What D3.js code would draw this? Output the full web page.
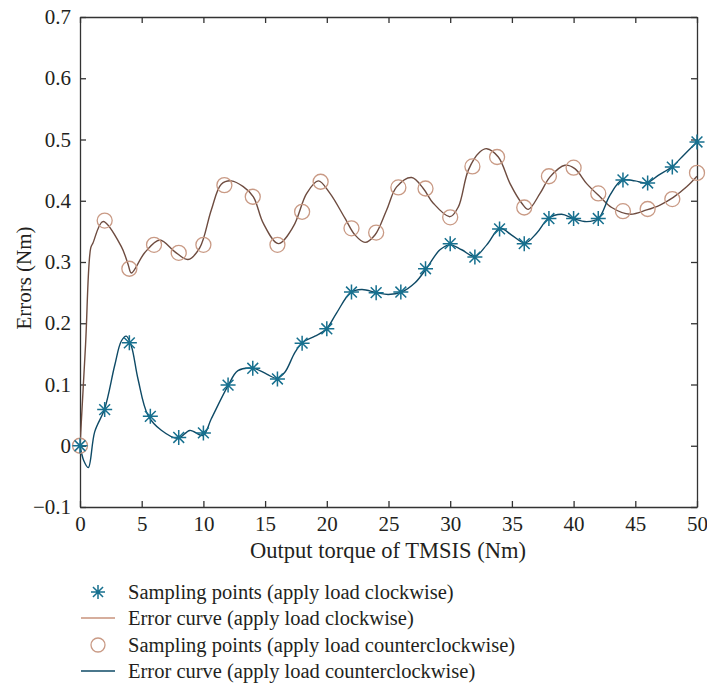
<!DOCTYPE html>
<html>
<head>
<meta charset="utf-8">
<script src="https://cdn.jsdelivr.net/npm/d3@7"></script>
<style>
  body { margin: 0; background: #fff; }
  text { font-family: "Liberation Serif", "DejaVu Serif", serif; fill: #231f20; }
</style>
</head>
<body>
<div id="chart"></div>
<script>
// sampling points, stars (legend: clockwise)
var starX = [0, 2, 4, 5.7, 8, 10, 12, 14, 16, 18, 20, 22, 24, 26, 28, 30, 32, 34, 36, 38, 40, 42, 44, 46, 48, 50];
var starY = [0, 0.059, 0.168, 0.048, 0.0135, 0.021, 0.099, 0.1265, 0.109, 0.1675, 0.191, 0.251, 0.250, 0.251, 0.289,
	0.330, 0.308, 0.354, 0.330, 0.371, 0.371, 0.371, 0.434, 0.429, 0.455, 0.496];

// sampling points, circles (legend: counterclockwise)
var circleX = [0, 2, 4, 6, 8, 10, 11.7, 14, 16, 18, 19.5, 22, 24, 25.8, 28, 30, 31.8, 33.8, 36, 38, 40, 42, 44, 46, 48, 50];
var circleY = [0, 0.3676, 0.289, 0.328, 0.315, 0.328, 0.4255, 0.4065, 0.328, 0.382, 0.431, 0.355, 0.348, 0.4217, 0.42,
	0.373, 0.456, 0.4714, 0.389, 0.44, 0.454, 0.412, 0.383, 0.3865, 0.4027, 0.4455];

// error curve, brown (legend: clockwise)
var brownCurveX = [0, 0.45, 0.87, 1.05, 1.86, 3.35, 3.9, 4.16, 5.24, 6.46, 7.67, 8.75, 9.7, 10.64, 11.45, 12.26, 13.23,
	14.05, 14.86, 16.07, 17.29, 18.37, 19.31, 20.26, 21.47, 22.29, 23.1, 23.9, 24.85, 25.66, 26.88, 27.82, 28.63, 29.98,
	30.66, 31.47, 32.4, 32.96, 33.9, 34.85, 35.8, 36.33, 37.28, 38.09, 39.3, 40.1, 41.06, 42.14, 43.09, 44.57, 45.92,
	47.0, 48.08, 49.16, 50];
var brownCurveY = [0, 0.165, 0.323, 0.331, 0.366, 0.325, 0.296, 0.282, 0.315, 0.336, 0.317, 0.304, 0.323, 0.385, 0.427,
	0.4325, 0.423, 0.4065, 0.363, 0.33, 0.358, 0.412, 0.4325, 0.412, 0.3715, 0.344, 0.332, 0.344, 0.385, 0.4227, 0.438,
	0.42, 0.396, 0.374, 0.39, 0.45, 0.4795, 0.485, 0.4714, 0.428, 0.396, 0.386, 0.412, 0.439, 0.458, 0.4525, 0.428,
	0.4065, 0.389, 0.378, 0.385, 0.393, 0.4055, 0.4227, 0.44];

// error curve, blue (legend: counterclockwise)
var blueCurveX = [0, 0.3, 0.67, 1.19, 2.0, 2.81, 3.35, 3.75, 4.16, 4.7, 5.51, 6.59, 7.94, 8.9, 9.97, 10.64, 12.0, 12.8,
	14.05, 15.13, 15.94, 16.6, 17.42, 18.05, 19.04, 19.94, 20.8, 21.93, 22.83, 24.04, 24.98, 26.07, 27.15, 28.1, 29.17,
	30.0, 30.93, 32.0, 32.96, 34.04, 34.98, 36.06, 37.0, 37.95, 39.03, 39.98, 41.06, 42.0, 42.95, 43.9, 44.98, 45.92,
	46.86, 47.95, 48.9, 50];
var blueCurveY = [0, -0.024, -0.0357, 0.0227, 0.0605, 0.131, 0.171, 0.179, 0.163, 0.109, 0.0497, 0.0253, 0.012, 0.025,
	0.017, 0.044, 0.098, 0.1226, 0.1265, 0.117, 0.110, 0.12, 0.1525, 0.169, 0.179, 0.19, 0.217, 0.25, 0.255, 0.25, 0.247,
	0.251, 0.266, 0.29, 0.32, 0.328, 0.32, 0.309, 0.328, 0.355, 0.344, 0.331, 0.347, 0.371, 0.378, 0.371, 0.366, 0.371,
	0.409, 0.4335, 0.4325, 0.429, 0.4415, 0.455, 0.474, 0.4957];

var xTicks = [0, 5, 10, 15, 20, 25, 30, 35, 40, 45, 50];
var yTicks = [-0.1, 0, 0.1, 0.2, 0.3, 0.4, 0.5, 0.6, 0.7];

var legendLabels = [
	"Sampling points (apply load clockwise)",
	"Error curve (apply load clockwise)",
	"Sampling points (apply load counterclockwise)",
	"Error curve (apply load counterclockwise)"
];

var zip = function(a, b) { return a.map(function(v, i) { return [v, b[i]]; }); };

var W = 707, H = 685;
var pLeft = 80, pRight = 697, pTop = 17, pBottom = 507;
var blue = "#0e4a66", star = "#17708f", brown = "#6e4c40", ring = "#c99a85";
var fontSize = 21;

var svg = d3.select("#chart").append("svg")
	.attr("width", W)
	.attr("height", H);

var x = d3.scaleLinear().domain([0, 50]).range([pLeft, pRight]);
var y = d3.scaleLinear().domain([-0.1, 0.7]).range([pBottom, pTop]);

//
// axes (box, inward ticks)
//
var axisStyle = function(g) {
	g.select(".domain").attr("stroke", "#333").attr("stroke-width", 1.3);
	g.selectAll(".tick line").attr("stroke", "#333").attr("stroke-width", 1.3);
	g.selectAll("text").attr("font-size", fontSize).attr("font-family", "Liberation Serif").attr("fill", "#231f20");
};

svg.append("g")
	.attr("transform", "translate(0," + pBottom + ")")
	.call(d3.axisBottom(x).tickValues(xTicks).tickSizeInner(-6).tickSizeOuter(0).tickPadding(9))
	.call(axisStyle);

svg.append("g")
	.attr("transform", "translate(0," + pTop + ")")
	.call(d3.axisTop(x).tickValues(xTicks).tickSizeInner(-6).tickSizeOuter(0).tickFormat(""))
	.call(axisStyle);

svg.append("g")
	.attr("transform", "translate(" + pLeft + ",0)")
	.call(d3.axisLeft(y).tickValues(yTicks).tickSizeInner(-6).tickSizeOuter(0).tickPadding(9)
		.tickFormat(function(d) { return d < 0 ? "\u22120.1" : (d === 0 ? "0" : d3.format(".1f")(d)); }))
	.call(axisStyle);

svg.append("g")
	.attr("transform", "translate(" + pRight + ",0)")
	.call(d3.axisRight(y).tickValues(yTicks).tickSizeInner(-6).tickSizeOuter(0).tickFormat(""))
	.call(axisStyle);

svg.append("text")
	.attr("x", 388)
	.attr("y", 558)
	.attr("text-anchor", "middle")
	.attr("font-size", 22.5)
	.text("Output torque of TMSIS (Nm)");

svg.append("text")
	.attr("transform", "translate(31,278) rotate(-90)")
	.attr("text-anchor", "middle")
	.attr("font-size", fontSize)
	.text("Errors (Nm)");

//
// marks
//
svg.append("clipPath").attr("id", "plot")
	.append("rect").attr("x", pLeft).attr("y", pTop).attr("width", pRight - pLeft).attr("height", pBottom - pTop);

var line = d3.line()
	.x(function(d) { return x(d[0]); })
	.y(function(d) { return y(d[1]); })
	.curve(d3.curveCatmullRom.alpha(0.5));

var starPath = function(s) {
	var d = s * 0.72;
	return "M" + (-s) + ",0L" + s + ",0M0," + (-s) + "L0," + s +
		"M" + (-d) + "," + (-d) + "L" + d + "," + d + "M" + (-d) + "," + d + "L" + d + "," + (-d);
};

var plot = svg.append("g").attr("clip-path", "url(#plot)");

plot.append("path")
	.datum(zip(brownCurveX, brownCurveY))
	.attr("fill", "none")
	.attr("stroke", brown)
	.attr("stroke-width", 1.4)
	.attr("d", line);

svg.append("g").selectAll("circle")
	.data(zip(circleX, circleY))
	.enter()
	.append("circle")
	.attr("cx", function(d) { return x(d[0]); })
	.attr("cy", function(d) { return y(d[1]); })
	.attr("r", 7.5)
	.attr("fill", "none")
	.attr("stroke", ring)
	.attr("stroke-width", 1.3);

plot.append("path")
	.datum(zip(blueCurveX, blueCurveY))
	.attr("fill", "none")
	.attr("stroke", blue)
	.attr("stroke-width", 1.4)
	.attr("d", line);

svg.append("g").selectAll("path")
	.data(zip(starX, starY))
	.enter()
	.append("path")
	.attr("transform", function(d) { return "translate(" + x(d[0]) + "," + y(d[1]) + ")"; })
	.attr("d", starPath(7.5))
	.attr("fill", "none")
	.attr("stroke", star)
	.attr("stroke-width", 1.5);

//
// legend
//
var legend = svg.append("g");
var rowY = [592, 618, 645, 671];

legend.append("path")
	.attr("transform", "translate(98," + rowY[0] + ")")
	.attr("d", starPath(7))
	.attr("fill", "none")
	.attr("stroke", star)
	.attr("stroke-width", 1.5);

legend.append("line")
	.attr("x1", 81).attr("x2", 115).attr("y1", rowY[1]).attr("y2", rowY[1])
	.attr("stroke", "#c9937d").attr("stroke-width", 1.4);

legend.append("circle")
	.attr("cx", 98).attr("cy", rowY[2]).attr("r", 7)
	.attr("fill", "none").attr("stroke", ring).attr("stroke-width", 1.3);

legend.append("line")
	.attr("x1", 81).attr("x2", 115).attr("y1", rowY[3]).attr("y2", rowY[3])
	.attr("stroke", blue).attr("stroke-width", 1.4);

legend.selectAll("text")
	.data(legendLabels)
	.enter()
	.append("text")
	.attr("x", 128)
	.attr("y", function(d, i) { return rowY[i]; })
	.attr("dy", "0.33em")
	.attr("font-size", 20.5)
	.text(function(d) { return d; });
</script>
</body>
</html>
